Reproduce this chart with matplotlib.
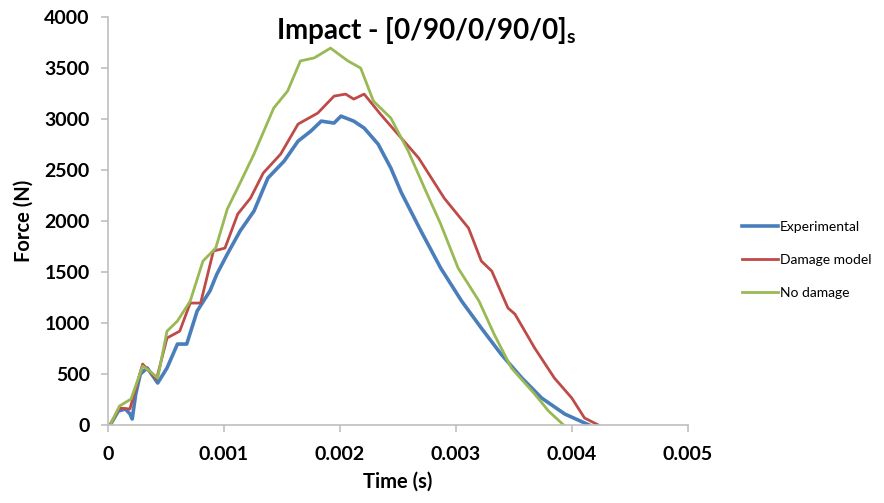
import numpy as np
import matplotlib.pyplot as plt

plt.rcParams['font.family'] = ['Lato', 'DejaVu Sans']

# time in seconds, force in N
t_exp = [0.00002, 0.00009, 0.00015, 0.00019, 0.00021, 0.00024, 0.00028, 0.00034, 0.00043,
         0.00051, 0.00060, 0.00068, 0.00077, 0.00088, 0.00094, 0.00103, 0.00114, 0.00126,
         0.00138, 0.00152, 0.00164, 0.00175, 0.00184, 0.00195, 0.00201, 0.00212, 0.00221,
         0.00233, 0.00244, 0.00253, 0.00270, 0.00287, 0.00305, 0.00322, 0.00339, 0.00357,
         0.00374, 0.00394, 0.00415]
f_exp = [0, 137, 157, 110, 59, 300, 500, 559, 412,
         559, 794, 794, 1118, 1314, 1480, 1676, 1902, 2098,
         2422, 2588, 2784, 2882, 2980, 2961, 3029, 2980, 2912,
         2755, 2520, 2280, 1902, 1539, 1216, 951, 696, 461,
         265, 108, 0]

t_dmg = [0.00002, 0.00010, 0.00019, 0.00030, 0.00042, 0.00051, 0.00062, 0.00071, 0.00080,
         0.00091, 0.00101, 0.00112, 0.00123, 0.00134, 0.00149, 0.00164, 0.00181, 0.00195,
         0.00205, 0.00212, 0.00221, 0.00235, 0.00253, 0.00268, 0.00290, 0.00311, 0.00322,
         0.00331, 0.00345, 0.00351, 0.00368, 0.00385, 0.00400, 0.00411, 0.00423]
f_dmg = [0, 167, 157, 598, 451, 853, 921, 1196, 1196,
         1706, 1735, 2069, 2225, 2471, 2657, 2951, 3059, 3225,
         3245, 3196, 3245, 3049, 2814, 2618, 2225, 1931, 1608,
         1510, 1147, 1088, 755, 461, 265, 69, 0]

t_nod = [0.00002, 0.00010, 0.00020, 0.00030, 0.00036, 0.00043, 0.00051, 0.00060, 0.00071,
         0.00082, 0.00093, 0.00103, 0.00114, 0.00126, 0.00143, 0.00155, 0.00166, 0.00178,
         0.00192, 0.00207, 0.00218, 0.00229, 0.00244, 0.00259, 0.00273, 0.00287, 0.00302,
         0.00320, 0.00333, 0.00348, 0.00368, 0.00380, 0.00393]
f_nod = [0, 186, 255, 578, 530, 460, 920, 1020, 1215,
         1608, 1735, 2118, 2373, 2657, 3108, 3275, 3570, 3600,
         3696, 3570, 3500, 3176, 3010, 2686, 2324, 1970, 1539,
         1216, 892, 559, 304, 137, 0]

fig = plt.figure(figsize=(8.84, 5.03), dpi=100)
ax = fig.add_axes([0.122, 0.155, 0.656, 0.811])

ax.plot(t_exp, f_exp, color='#4a7ebb', lw=2.6, label='Experimental')
ax.plot(t_dmg, f_dmg, color='#be4b48', lw=2.0, label='Damage model')
ax.plot(t_nod, f_nod, color='#98b954', lw=2.0, label='No damage')

ax.set_xlim(0, 0.005)
ax.set_ylim(0, 4000)
ax.set_xticks([0, 0.001, 0.002, 0.003, 0.004, 0.005])
ax.set_xticklabels(['0', '0.001', '0.002', '0.003', '0.004', '0.005'])
ax.set_yticks(np.arange(0, 4001, 500))

for s in ['top', 'right']:
    ax.spines[s].set_visible(False)
for s in ['left', 'bottom']:
    ax.spines[s].set_color('#bfbfbf')
    ax.spines[s].set_linewidth(1.2)
ax.tick_params(colors='#bfbfbf', length=5, width=1.2, labelsize=14, pad=8)
ax.tick_params(axis='x', pad=10)
for lbl in ax.get_xticklabels() + ax.get_yticklabels():
    lbl.set_color('black')
    lbl.set_fontweight('bold')

ax.set_xlabel('Time (s)', fontsize=14.5, fontweight='bold', labelpad=6)
ax.set_ylabel('Force (N)', fontsize=14.5, fontweight='bold', labelpad=8)
ax.set_title(r'Impact - [0/90/0/90/0]$_\mathregular{s}$', fontsize=20,
             fontweight='bold', x=0.55, y=0.925)

ax.legend(loc='center left', bbox_to_anchor=(1.084, 0.405), frameon=False,
          borderaxespad=0, fontsize=10, handlelength=2.6, handletextpad=0.15,
          labelspacing=1.5)

fig.savefig('out.png', dpi=100)
